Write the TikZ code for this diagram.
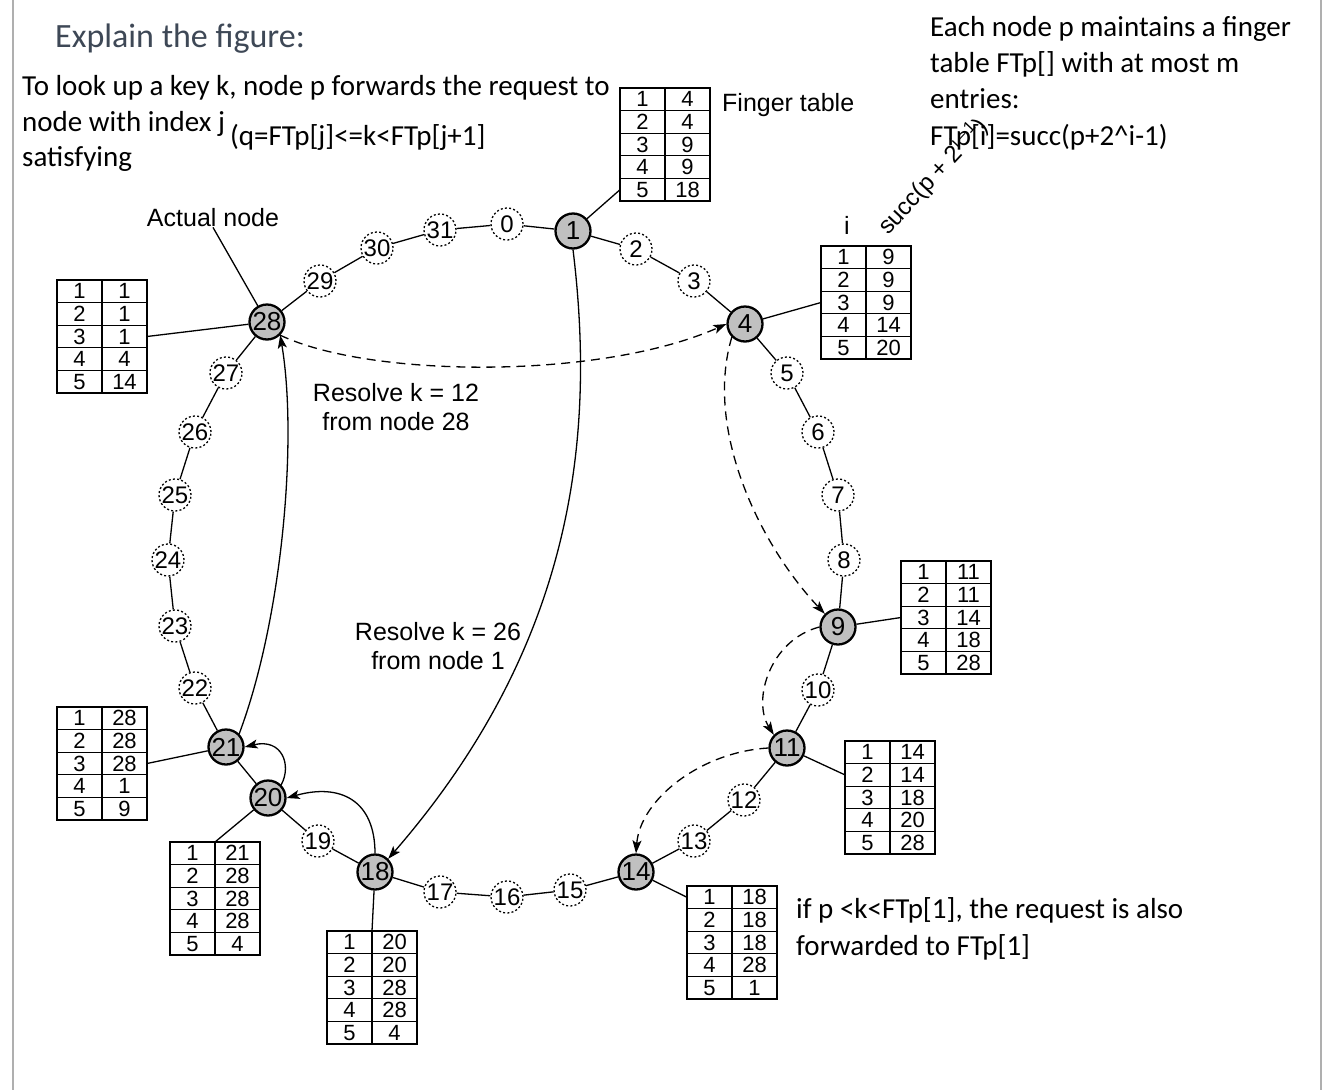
\documentclass[tikz,border=0pt]{standalone}
\usepackage{fontspec}
\setmainfont{Liberation Sans}
\newfontfamily\calfont{Carlito}
\usetikzlibrary{arrows.meta}
\definecolor{nodegray}{RGB}{192,192,192}
\definecolor{headcol}{RGB}{62,72,86}
\definecolor{bordergray}{RGB}{175,175,175}
\newcommand\ftab[8]{%
  \draw[tabline] (#2,#3) rectangle ++(90,113);
  \draw[tabline] (#2+45,#3) -- ++(0,113);
  \foreach \r in {1,...,4} \draw[tabline] (#2,#3+22.6*\r) -- ++(90,0);
  \foreach \r/\v in {1/#4,2/#5,3/#6,4/#7,5/#8} {
    \node[tabtxt] (#1-a\r) at (#2+22.5,#3+22.6*\r-11.3) {\r};
    \node[tabtxt] (#1-b\r) at (#2+67.5,#3+22.6*\r-11.3) {\v};
    \coordinate (#1-\r) at (#2,#3+22.6*\r-11.3);
    \coordinate (#1-r\r) at (#2+90,#3+22.6*\r-11.3);
  }
  \coordinate (#1-t) at (#2+45,#3);
}
\begin{document}
\begin{tikzpicture}[x=1pt,y=-1pt,
  real/.style={circle, draw, line width=2.3pt, fill=nodegray, minimum size=35pt, inner sep=0pt, font=\fontsize{26}{26}\selectfont},
  virt/.style={circle, draw, dash pattern=on 2pt off 2.2pt, line width=1.3pt, fill=white, minimum size=32pt, inner sep=0pt, font=\fontsize{24}{24}\selectfont},
  ringline/.style={line width=1.3pt},
  tabline/.style={line width=1.2pt},
  tabtxt/.style={inner sep=0pt, font=\fontsize{22}{22}\selectfont},
  lbl/.style={inner sep=0pt, font=\fontsize{25}{25}\selectfont},
  cal/.style={inner sep=0pt, anchor=base west, font=\calfont\fontsize{29}{29}\selectfont},
  arr/.style={-{Stealth[length=13pt,width=9pt,inset=3pt]}, line width=1.3pt},
  darr/.style={arr, dash pattern=on 9pt off 6pt}
]
\useasboundingbox (0,0) rectangle (1328,1090);
\fill[white] (0,0) rectangle (1328,1090);
\draw[bordergray, line width=2pt] (13,0) -- (13,1090);
\draw[bordergray, line width=2pt] (1321,0) -- (1321,1090);

% ring nodes
\foreach \i/\x/\y in {0/507/224, 31/440/230, 30/377/248, 29/320/281, 27/226/373, 26/195/432,
   25/175/495, 24/168/560, 23/175/626, 22/195/688, 19/318/841, 17/440/892, 16/507/897,
   15/570/890, 13/694/841, 12/744/800, 10/818/690, 8/844/560, 7/838/495, 6/818/432,
   5/787/373, 3/694/281, 2/636/249}
  \node[virt] (n\i) at (\x,\y) {\i};
\foreach \i/\x/\y in {1/573/231, 4/745/324, 9/838/627, 11/787/748, 14/636/872,
   18/375/872, 20/268/798, 21/226/747, 28/267/322}
  \node[real] (n\i) at (\x,\y) {\i};
\foreach \i [evaluate=\i as \j using {int(mod(\i+1,32))}] in {0,...,31}
  \draw[ringline] (n\i) -- (n\j);

% finger tables
\ftab{t1}{620}{88}{4}{4}{9}{9}{18}
\ftab{t4}{821}{246}{9}{9}{9}{14}{20}
\ftab{t9}{901}{561}{11}{11}{14}{18}{28}
\ftab{t11}{845}{741}{14}{14}{18}{20}{28}
\ftab{t14}{687}{886}{18}{18}{18}{28}{1}
\ftab{t18}{327}{931}{20}{20}{28}{28}{4}
\ftab{t20}{170}{842}{21}{28}{28}{28}{4}
\ftab{t21}{57}{707}{28}{28}{28}{1}{9}
\ftab{t28}{57}{280}{1}{1}{1}{4}{14}
\draw[ringline] (n1) -- (t1-5);
\draw[ringline] (n4) -- (t4-3);
\draw[ringline] (n9) -- (t9-3);
\draw[ringline] (n11) -- (t11-2);
\draw[ringline] (n14) -- (t14-1);
\draw[ringline] (n18) -- (t18-t);
\draw[ringline] (n20) -- (t20-t);
\draw[ringline] (n21) -- (t21-r3);
\draw[ringline] (n28) -- (t28-r3);

% labels
\node[lbl, anchor=west] (ft) at (722,105) {Finger table};
\node[lbl] (ilab) at (847,225) {i};
\node[lbl, anchor=base west, rotate=47, font=\fontsize{24}{24}\selectfont] (succ) at (888,236) {succ(p + 2\textsuperscript{i\,–\,1})};
\node[lbl] (act) at (213,218) {Actual node};
\draw[ringline] (act.south) -- (n28);
\node[lbl, align=center, font=\fontsize{25}{29}\selectfont] (r12) at (396,407) {Resolve k = 12\\from node 28};
\node[lbl, align=center, font=\fontsize{25}{29}\selectfont] (r26) at (438,646) {Resolve k = 26\\from node 1};

% solid arrows
\draw[arr] (n1.south) .. controls (595,430) and (578,640) .. (n18.north east);
\draw[arr] (n21.north east) .. controls (282,620) and (298,440) .. (n28.south east);
\draw[arr] (n20.north east) .. controls (292,765) and (282,738) .. (n21.east);
\draw[arr] (n18.north) .. controls (375,800) and (340,783) .. (n20.east);

% dashed arrows
\draw[darr] (n28.south east) .. controls (370,378) and (600,380) .. (n4.west);
\draw[darr] (n4.south west) .. controls (704,430) and (760,545) .. (n9.north west);
\draw[darr] (n9.west) .. controls (770,640) and (752,700) .. (n11.north west);
\draw[darr] (n11.west) .. controls (700,752) and (640,800) .. (n14.north);

% explanatory texts
\node[cal, text=headcol, font=\calfont\fontsize{34}{34}\selectfont] (head) at (55,47) {Explain the figure:};
\node[cal] (l1) at (22,95) {To look up a key k, node p forwards the request to};
\node[cal] (l2) at (22,131) {node with index j};
\node[cal] (l2b) at (230,145) {(q=FTp[j]<=k<FTp[j+1]};
\node[cal] (l3) at (22,166) {satisfying};
\node[cal] (r1) at (930,36) {Each node p maintains a finger};
\node[cal] (r2) at (930,72) {table FTp[] with at most m};
\node[cal] (r3) at (930,108) {entries:};
\node[cal] (r4) at (930,145) {FTp[i]=succ(p+2\^{}i-1)};
\node[cal] (b1) at (796,918) {if p <k<FTp[1], the request is also};
\node[cal] (b2) at (796,955) {forwarded to FTp[1]};
\end{tikzpicture}
\end{document}
